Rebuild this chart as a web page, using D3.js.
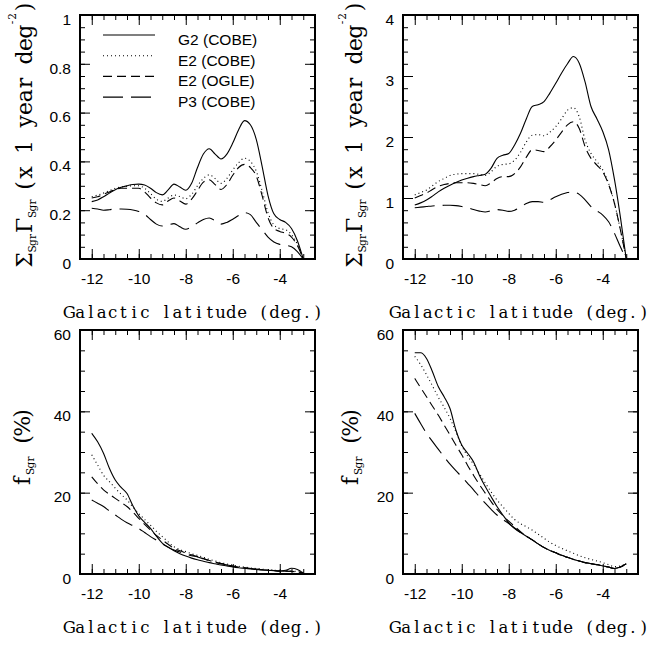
<!DOCTYPE html>
<html>
<head>
<meta charset="utf-8">
<script src="https://cdn.jsdelivr.net/npm/d3@7"></script>
<style>
  body { margin: 0; background: #fff; }
  text { white-space: pre; }
</style>
</head>
<body>
<div id="root"></div>
<script>
// galactic latitude (deg.) shared by every curve
const lat = [-12, -11.75, -11.5, -11.25, -11, -10.75, -10.5, -10.25, -10, -9.75, -9.5, -9.25, -9,
    -8.75, -8.5, -8.25, -8, -7.75, -7.5, -7.25, -7, -6.75, -6.5, -6.25, -6, -5.75, -5.5, -5.25, -5,
    -4.75, -4.5, -4.25, -4, -3.75, -3.5, -3.25, -3];

const seriesNames = ["G2 (COBE)", "E2 (COBE)", "E2 (OGLE)", "P3 (COBE)"];

// top-left: event rate, scale 0-1
const rateL_G2 = [0.235, 0.242, 0.255, 0.27, 0.284, 0.294, 0.30, 0.305, 0.307, 0.303, 0.29, 0.272, 0.263,
    0.283, 0.307, 0.295, 0.282, 0.31, 0.375, 0.43, 0.452, 0.43, 0.41, 0.43, 0.475, 0.53, 0.567, 0.55, 0.49,
    0.38, 0.26, 0.185, 0.162, 0.15, 0.125, 0.075, 0];
const rateL_E2c = [0.255, 0.262, 0.27, 0.28, 0.29, 0.295, 0.298, 0.30, 0.30, 0.29, 0.268, 0.245, 0.236,
    0.25, 0.262, 0.256, 0.247, 0.265, 0.30, 0.33, 0.345, 0.33, 0.31, 0.33, 0.365, 0.395, 0.413, 0.40, 0.36,
    0.28, 0.19, 0.14, 0.125, 0.12, 0.10, 0.06, 0];
const rateL_E2o = [0.25, 0.255, 0.265, 0.275, 0.285, 0.29, 0.29, 0.29, 0.29, 0.275, 0.25, 0.23, 0.222,
    0.238, 0.25, 0.238, 0.225, 0.245, 0.28, 0.315, 0.325, 0.305, 0.285, 0.305, 0.343, 0.375, 0.388, 0.375, 0.34,
    0.26, 0.17, 0.125, 0.113, 0.105, 0.09, 0.055, 0];
const rateL_P3 = [0.208, 0.205, 0.20, 0.202, 0.205, 0.205, 0.204, 0.201, 0.195, 0.183, 0.162, 0.143, 0.135,
    0.14, 0.145, 0.132, 0.122, 0.132, 0.148, 0.162, 0.168, 0.157, 0.143, 0.15, 0.163, 0.178, 0.19, 0.182, 0.15,
    0.12, 0.09, 0.07, 0.06, 0.056, 0.05, 0.03, 0];

// top-right: event rate, scale 0-4
const rateR_G2 = [0.885, 0.92, 0.967, 1.03, 1.10, 1.16, 1.21, 1.255, 1.295, 1.325, 1.35, 1.37, 1.39,
    1.49, 1.65, 1.70, 1.73, 1.87, 2.06, 2.3, 2.5, 2.53, 2.58, 2.72, 2.88, 3.05, 3.2, 3.32, 3.21,
    2.9, 2.5, 2.3, 2.09, 1.79, 1.30, 0.69, 0];
const rateR_E2c = [1.05, 1.09, 1.13, 1.2, 1.27, 1.32, 1.37, 1.39, 1.40, 1.40, 1.40, 1.385, 1.37,
    1.43, 1.52, 1.55, 1.56, 1.62, 1.75, 1.92, 2.03, 2.04, 2.02, 2.08, 2.17, 2.30, 2.44, 2.48, 2.33,
    1.95, 1.73, 1.60, 1.46, 1.24, 0.91, 0.48, 0];
const rateR_E2o = [1.0, 1.04, 1.08, 1.14, 1.19, 1.22, 1.24, 1.25, 1.25, 1.25, 1.24, 1.22, 1.20,
    1.25, 1.32, 1.35, 1.35, 1.40, 1.51, 1.67, 1.79, 1.78, 1.76, 1.84, 1.95, 2.08, 2.20, 2.25, 2.14,
    1.84, 1.65, 1.54, 1.43, 1.22, 0.91, 0.48, 0];
const rateR_P3 = [0.84, 0.85, 0.86, 0.87, 0.875, 0.88, 0.88, 0.875, 0.86, 0.84, 0.81, 0.785, 0.77,
    0.79, 0.81, 0.80, 0.78, 0.80, 0.85, 0.91, 0.94, 0.94, 0.93, 0.97, 1.02, 1.06, 1.09, 1.10, 1.06,
    0.97, 0.86, 0.79, 0.72, 0.61, 0.42, 0.2, 0];

// bottom-left: Sgr fraction (%)
const fracL_G2 = [34.6, 32.5, 29.7, 26.0, 23.1, 21.3, 19.8, 16.8, 14.3, 12.7, 11.2, 9.3, 7.6,
    6.6, 5.7, 5.0, 4.4, 3.9, 3.5, 3.15, 2.8, 2.5, 2.2, 2.0, 1.75, 1.55, 1.4, 1.25, 1.1,
    1.0, 0.9, 0.8, 0.7, 0.9, 1.4, 1.1, 0.2];
const fracL_E2c = [29.3, 26.8, 24.3, 22.7, 21.1, 19.6, 18.2, 16.5, 14.9, 13.4, 12.0, 10.5, 9.2,
    7.9, 6.7, 6.0, 5.5, 5.0, 4.6, 4.1, 3.6, 3.2, 2.8, 2.45, 2.15, 1.9, 1.7, 1.5, 1.35,
    1.2, 1.05, 0.95, 0.85, 0.8, 0.75, 0.6, 0.4];
const fracL_E2o = [23.9, 22.2, 20.7, 19.6, 18.6, 17.6, 16.6, 15.2, 13.7, 12.2, 10.8, 9.5, 8.4,
    7.3, 6.3, 5.7, 5.2, 4.7, 4.3, 3.8, 3.3, 2.9, 2.55, 2.25, 1.95, 1.7, 1.5, 1.35, 1.2,
    1.05, 0.95, 0.85, 0.75, 0.7, 0.65, 0.5, 0.3];
const fracL_P3 = [18.2, 17.4, 16.6, 15.5, 14.5, 13.5, 12.6, 11.9, 11.2, 10.2, 9.2, 8.3, 7.4,
    6.6, 5.9, 5.4, 4.9, 4.5, 4.2, 3.75, 3.3, 2.9, 2.55, 2.25, 1.95, 1.7, 1.5, 1.35, 1.2,
    1.05, 0.95, 0.85, 0.75, 0.7, 0.65, 0.5, 0.3];

// bottom-right: Sgr fraction (%)
const fracR_G2 = [54.4, 54.4, 53.0, 49.8, 46.1, 43.6, 40.7, 35.4, 31.7, 29.7, 27.6, 24.3, 21.5,
    19.0, 16.6, 14.5, 12.6, 11.3, 10.2, 9.3, 8.4, 7.4, 6.5, 5.8, 5.2, 4.6, 4.1, 3.6, 3.2,
    2.8, 2.55, 2.3, 2.0, 1.7, 1.35, 1.7, 2.5];
const fracR_E2c = [53.5, 51.5, 49.0, 46.3, 43.5, 41.0, 38.3, 35.0, 31.5, 29.0, 27.0, 24.7, 22.4,
    20.2, 18.2, 16.5, 14.9, 13.4, 12.4, 11.6, 10.8, 9.8, 8.8, 7.8, 7.0, 6.3, 5.7, 5.1, 4.5,
    4.0, 3.6, 3.2, 2.8, 2.3, 1.8, 2.0, 2.5];
const fracR_E2o = [48.1, 45.8, 43.6, 41.3, 39.1, 36.6, 34.2, 31.7, 29.3, 26.7, 24.3, 22.0, 19.9,
    17.8, 15.9, 14.4, 13.0, 11.7, 10.4, 9.3, 8.4, 7.4, 6.5, 5.8, 5.2, 4.6, 4.1, 3.6, 3.2,
    2.8, 2.55, 2.3, 2.0, 1.7, 1.35, 1.7, 2.5];
const fracR_P3 = [39.5, 37.0, 34.6, 32.6, 30.7, 28.8, 27.0, 25.4, 23.9, 22.3, 20.7, 19.0, 17.4,
    15.9, 14.5, 13.4, 12.4, 11.2, 10.2, 9.3, 8.4, 7.4, 6.5, 5.8, 5.2, 4.6, 4.1, 3.6, 3.2,
    2.8, 2.55, 2.3, 2.0, 1.7, 1.35, 1.7, 2.5];

// tick labels
const xMajor = [-12, -10, -8, -6, -4];
const rateL_ticks = [0, 0.2, 0.4, 0.6, 0.8, 1];
const rateR_ticks = [0, 1, 2, 3, 4];
const frac_ticks = [0, 20, 40, 60];

const dashes = [null, "1,3", "9,5", "20,8"];

const W = 235, H = 244;
const tickFont = "'Liberation Sans', Arial, Helvetica, sans-serif";
const serifFont = "'DejaVu Serif', serif";

const svg = d3.select("#root").append("svg")
    .attr("width", 667)
    .attr("height", 645);

// typewriter-like titles: every glyph sits in its own cell
const rateTitle = [
    {t: "Σ", adv: 16, size: 22}, {t: "Sgr", adv: 6.2, size: 10.5, shift: 4},
    {t: "Γ", adv: 16, size: 22}, {t: "Sgr", adv: 6.2, size: 10.5, shift: 4},
    {gap: 7}, {t: "(x 1 year deg", adv: 12.8, size: 22},
    {t: "-2", adv: 6, size: 10.5, shift: -16}, {t: ")", adv: 12.8, size: 22}
];
const fracTitle = [
    {t: "f", adv: 13, size: 22}, {t: "Sgr", adv: 6.2, size: 10.5, shift: 4},
    {gap: 10}, {t: "(%)", adv: 13, size: 22}
];

const panels = [
    {left: 80, top: 15, yMax: 1, yMinorStep: 0.05, ticks: rateL_ticks,
     series: [rateL_G2, rateL_E2c, rateL_E2o, rateL_P3], legend: true,
     title: rateTitle, titleX: 32, titleStart: 268, xTitleMid: 193.5},
    {left: 403, top: 15, yMax: 4, yMinorStep: 0.2, ticks: rateR_ticks,
     series: [rateR_G2, rateR_E2c, rateR_E2o, rateR_P3], legend: false,
     title: rateTitle, titleX: 361.5, titleStart: 268, xTitleMid: 519.5},
    {left: 80, top: 330, yMax: 60, yMinorStep: 5, ticks: frac_ticks,
     series: [fracL_G2, fracL_E2c, fracL_E2o, fracL_P3], legend: false,
     title: fracTitle, titleX: 30, titleStart: 487.5, xTitleMid: 193.5},
    {left: 403, top: 330, yMax: 60, yMinorStep: 5, ticks: frac_ticks,
     series: [fracR_G2, fracR_E2c, fracR_E2o, fracR_P3], legend: false,
     title: fracTitle, titleX: 357.5, titleStart: 487.5, xTitleMid: 519.5}
];

function styleAxis(g) {
    g.select(".domain").remove();
    g.selectAll("line").attr("stroke", "#000").attr("stroke-width", 1);
    g.attr("font-family", tickFont).attr("font-size", 15.5);
    g.selectAll("text").attr("fill", "#000");
}

// vertical title, read bottom to top, starting at screen y = start
function addTitle(x0, start, parts) {
    const g = svg.append("g").attr("transform", `translate(${x0},0) rotate(-90)`);
    let pos = start;
    parts.forEach(p => {
        if (p.gap) { pos -= p.gap; return; }
        const xs = [];
        for (const ch of p.t) {
            xs.push(-(pos - p.adv / 2));
            pos -= p.adv;
        }
        g.append("text")
            .attr("x", xs.join(" "))
            .attr("y", p.shift || 0)
            .attr("text-anchor", "middle")
            .attr("font-family", serifFont)
            .attr("font-size", p.size)
            .attr("fill", "#000")
            .text(p.t);
    });
}

function addXTitle(mid, baseline) {
    const label = "Galactic latitude (deg.)";
    const adv = 10.8;
    const start = mid - label.length * adv / 2;
    const xs = Array.from(label, (ch, i) => start + (i + 0.5) * adv);
    svg.append("text")
        .attr("x", xs.join(" "))
        .attr("y", baseline)
        .attr("text-anchor", "middle")
        .attr("font-family", serifFont)
        .attr("font-size", 16.5)
        .attr("fill", "#000")
        .text(label);
}

panels.forEach(p => {
    const g = svg.append("g").attr("transform", `translate(${p.left},${p.top})`);

    const x = d3.scaleLinear().domain([-12.5, -2.5]).range([0, W]);
    const y = d3.scaleLinear().domain([0, p.yMax]).range([H, 0]);

    const xMinor = d3.range(-12, -2.9, 0.5);
    const yMinor = d3.range(1, Math.round(p.yMax / p.yMinorStep)).map(k => k * p.yMinorStep);

    // minor ticks, all four sides, pointing inward
    g.append("g").attr("transform", `translate(0,${H})`)
        .call(d3.axisBottom(x).tickValues(xMinor).tickSize(-5).tickFormat("")).call(styleAxis);
    g.append("g")
        .call(d3.axisTop(x).tickValues(xMinor).tickSize(-5).tickFormat("")).call(styleAxis);
    g.append("g")
        .call(d3.axisLeft(y).tickValues(yMinor).tickSize(-5).tickFormat("")).call(styleAxis);
    g.append("g").attr("transform", `translate(${W},0)`)
        .call(d3.axisRight(y).tickValues(yMinor).tickSize(-5).tickFormat("")).call(styleAxis);

    // major ticks with labels
    g.append("g").attr("transform", `translate(0,${H})`)
        .call(d3.axisBottom(x).tickValues(xMajor).tickSize(-10).tickPadding(14).tickFormat(d => String(d)))
        .call(styleAxis);
    g.append("g")
        .call(d3.axisTop(x).tickValues(xMajor).tickSize(-10).tickFormat("")).call(styleAxis);
    g.append("g")
        .call(d3.axisLeft(y).tickValues(p.ticks).tickSize(-10).tickPadding(9).tickFormat(d => String(d)))
        .call(styleAxis)
        .selectAll("text").attr("dy", "0.6em");
    g.append("g").attr("transform", `translate(${W},0)`)
        .call(d3.axisRight(y).tickValues(p.ticks).tickSize(-10).tickFormat("")).call(styleAxis);

    // curves
    const line = d3.line()
        .x((d, i) => x(lat[i]))
        .y(d => y(d))
        .curve(d3.curveMonotoneX);

    p.series.forEach((s, i) => {
        g.append("path")
            .datum(s)
            .attr("fill", "none")
            .attr("stroke", "#000")
            .attr("stroke-width", 1.1)
            .attr("stroke-dasharray", dashes[i])
            .attr("d", line);
    });

    // frame
    g.append("rect")
        .attr("width", W)
        .attr("height", H)
        .attr("fill", "none")
        .attr("stroke", "#000")
        .attr("stroke-width", 2);

    // legend
    if (p.legend) {
        seriesNames.forEach((name, i) => {
            const ly = 20 + i * 20.7;
            g.append("line")
                .attr("x1", 23).attr("x2", 75)
                .attr("y1", ly).attr("y2", ly)
                .attr("stroke", "#000")
                .attr("stroke-width", 1.1)
                .attr("stroke-dasharray", dashes[i]);
            g.append("text")
                .attr("x", 98)
                .attr("y", ly + 10)
                .attr("font-family", tickFont)
                .attr("font-size", 15.5)
                .text(name);
        });
    }

    addXTitle(p.xTitleMid, p.top + 303);
    addTitle(p.titleX, p.titleStart, p.title);
});
</script>
</body>
</html>
